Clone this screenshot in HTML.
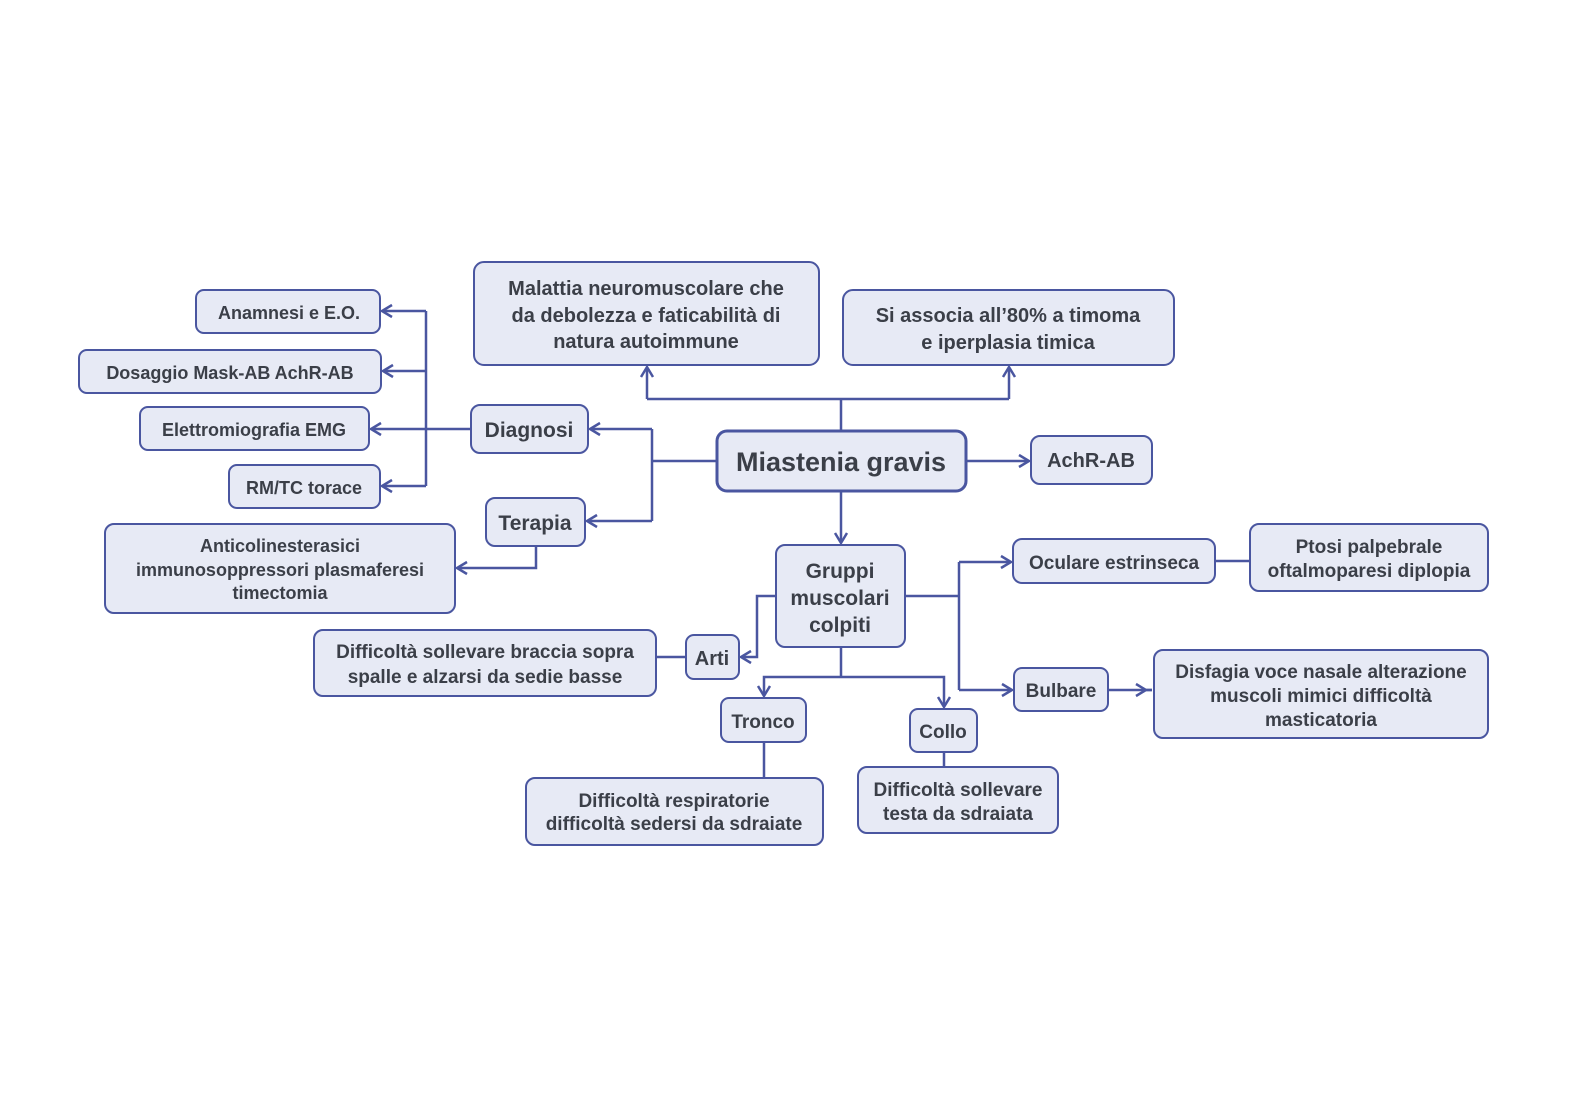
<!DOCTYPE html>
<html><head><meta charset="utf-8"><style>
html,body{margin:0;padding:0;background:#fff;overflow:hidden;width:1579px;height:1116px;}
svg{display:block}
text{font-family:"Liberation Sans",sans-serif;font-weight:bold;fill:#3b3f48;text-anchor:middle;}
rect{fill:#e7eaf5;stroke:#4a56a0;stroke-width:2;}
.l{fill:none;stroke:#4a56a0;stroke-width:2.5;}
.a{fill:none;stroke:#4a56a0;stroke-width:2.5;}
</style></head><body>
<svg width="1579" height="1116" viewBox="0 0 1579 1116">
<path class="l" d="M841 431V399M647 399H1009M647 399V367M1009 399V367"/>
<path class="a" d="M641 377L647 367L653 377M1003 377L1009 367L1015 377"/>
<path class="l" d="M717 461H652M652 429V521M652 429H590M652 521H587"/>
<path class="a" d="M600 423L590 429L600 435M597 515L587 521L597 527"/>
<path class="l" d="M471 429H426M426 311V486M426 311H382M426 371H383M426 429H371M426 486H382"/>
<path class="a" d="M392 305L382 311L392 317M393 365L383 371L393 377M381 423L371 429L381 435M392 480L382 486L392 492"/>
<path class="l" d="M536 546V568H457"/>
<path class="a" d="M467 562L457 568L467 574"/>
<path class="l" d="M966 461H1029"/>
<path class="a" d="M1019 455L1029 461L1019 467"/>
<path class="l" d="M841 491V543"/>
<path class="a" d="M835 533L841 543L847 533"/>
<path class="l" d="M905 596H959M959 562V690M959 562H1011M959 690H1012"/>
<path class="a" d="M1001 556L1011 562L1001 568M1002 684L1012 690L1002 696"/>
<path class="l" d="M1215 561H1250M1108 690H1152"/>
<path class="a" d="M1136 684L1146 690L1136 696M1142 690H1152"/>
<path class="l" d="M776 596H757V657H741M686 657H656"/>
<path class="a" d="M751 651L741 657L751 663"/>
<path class="l" d="M841 647V677H764V696M841 677H944V707"/>
<path class="a" d="M758 686L764 696L770 686M938 697L944 707L950 697"/>
<path class="l" d="M764 742V778M944 752V767"/>
<rect x="196" y="290" width="184" height="43" rx="8"/>
<text x="289" y="319" font-size="18">Anamnesi e E.O.</text>
<rect x="79" y="350" width="302" height="43" rx="8"/>
<text x="230" y="379" font-size="18">Dosaggio Mask-AB AchR-AB</text>
<rect x="140" y="407" width="229" height="43" rx="8"/>
<text x="254" y="436" font-size="18">Elettromiografia EMG</text>
<rect x="229" y="465" width="151" height="43" rx="8"/>
<text x="304" y="494" font-size="18">RM/TC torace</text>
<rect x="474" y="262" width="345" height="103" rx="10"/>
<text x="646" y="295" font-size="20">Malattia neuromuscolare che</text>
<text x="646" y="322" font-size="20">da debolezza e faticabilità di</text>
<text x="646" y="348" font-size="20">natura autoimmune</text>
<rect x="843" y="290" width="331" height="75" rx="10"/>
<text x="1008" y="322" font-size="20">Si associa all’80% a timoma</text>
<text x="1008" y="349" font-size="20">e iperplasia timica</text>
<rect x="471" y="405" width="117" height="48" rx="9"/>
<text x="529" y="437" font-size="21">Diagnosi</text>
<rect x="717" y="431" width="249" height="60" rx="10" style="stroke-width:3"/>
<text x="841" y="471" font-size="27">Miastenia gravis</text>
<rect x="1031" y="436" width="121" height="48" rx="9"/>
<text x="1091" y="467" font-size="20">AchR-AB</text>
<rect x="486" y="498" width="99" height="48" rx="9"/>
<text x="535" y="530" font-size="21">Terapia</text>
<rect x="105" y="524" width="350" height="89" rx="9"/>
<text x="280" y="552" font-size="18">Anticolinesterasici</text>
<text x="280" y="576" font-size="18">immunosoppressori plasmaferesi</text>
<text x="280" y="599" font-size="18">timectomia</text>
<rect x="776" y="545" width="129" height="102" rx="9"/>
<text x="840" y="578" font-size="21">Gruppi</text>
<text x="840" y="605" font-size="21">muscolari</text>
<text x="840" y="632" font-size="21">colpiti</text>
<rect x="1013" y="539" width="202" height="44" rx="9"/>
<text x="1114" y="569" font-size="19">Oculare estrinseca</text>
<rect x="1250" y="524" width="238" height="67" rx="9"/>
<text x="1369" y="553" font-size="19">Ptosi palpebrale</text>
<text x="1369" y="577" font-size="19">oftalmoparesi diplopia</text>
<rect x="686" y="635" width="53" height="44" rx="8"/>
<text x="712" y="665" font-size="20">Arti</text>
<rect x="314" y="630" width="342" height="66" rx="9"/>
<text x="485" y="658" font-size="19">Difficoltà sollevare braccia sopra</text>
<text x="485" y="683" font-size="19">spalle e alzarsi da sedie basse</text>
<rect x="1014" y="668" width="94" height="43" rx="8"/>
<text x="1061" y="697" font-size="19">Bulbare</text>
<rect x="1154" y="650" width="334" height="88" rx="9"/>
<text x="1321" y="678" font-size="19">Disfagia voce nasale alterazione</text>
<text x="1321" y="702" font-size="19">muscoli mimici difficoltà</text>
<text x="1321" y="726" font-size="19">masticatoria</text>
<rect x="721" y="698" width="85" height="44" rx="8"/>
<text x="763" y="728" font-size="19">Tronco</text>
<rect x="910" y="709" width="67" height="43" rx="8"/>
<text x="943" y="738" font-size="19">Collo</text>
<rect x="526" y="778" width="297" height="67" rx="9"/>
<text x="674" y="807" font-size="19">Difficoltà respiratorie</text>
<text x="674" y="830" font-size="19">difficoltà sedersi da sdraiate</text>
<rect x="858" y="767" width="200" height="66" rx="9"/>
<text x="958" y="796" font-size="19">Difficoltà sollevare</text>
<text x="958" y="820" font-size="19">testa da sdraiata</text>
</svg>
</body></html>
